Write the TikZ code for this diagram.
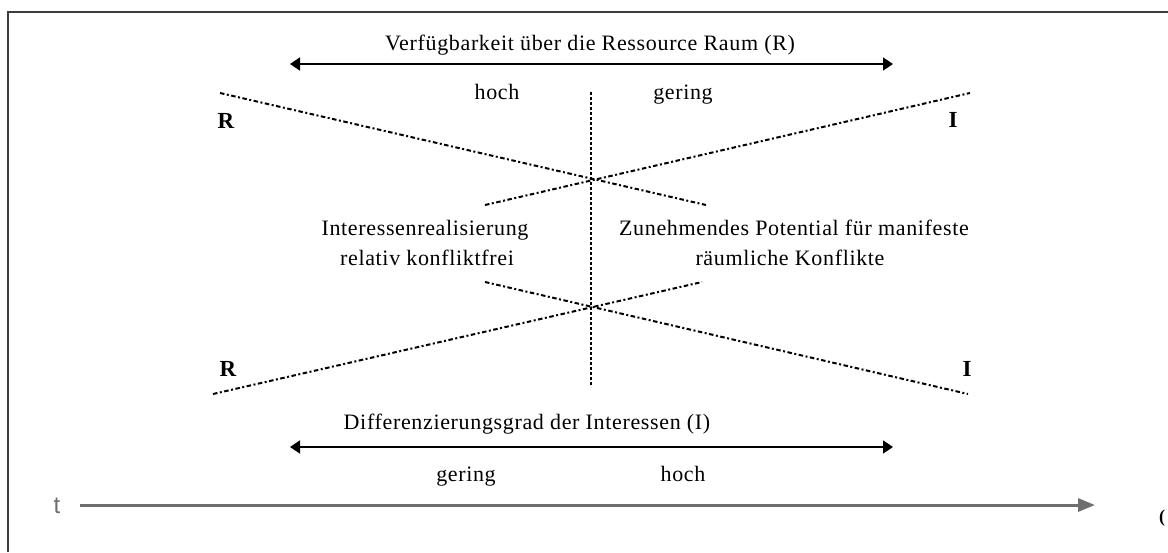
\documentclass[tikz,border=0pt]{standalone}
\usepackage{fontspec}
\setmainfont{Liberation Serif}[LetterSpace=3]
\newfontfamily\axisfont{Liberation Sans}
\usetikzlibrary{arrows.meta}
\definecolor{framegray}{HTML}{3C3C3C}
\definecolor{timegray}{HTML}{6E6E6E}
\tikzset{
  lbl/.style={font=\fontsize{22}{26}\selectfont, inner sep=0pt, anchor=base},
  ends/.style={font=\bfseries\fontsize{23}{26}\selectfont, inner sep=0pt, anchor=base},
  scalearrow/.style={line width=1.8pt, {Triangle[length=10pt,width=13pt]}-{Triangle[length=10pt,width=13pt]}},
  trend/.style={line width=2pt, dash pattern=on 4.5pt off 2.5pt on 2pt off 2.5pt},
  divider/.style={line width=1.8pt, dash pattern=on 2.5pt off 2.5pt},
  timeaxis/.style={line width=3pt, timegray, -{Triangle[length=17pt,width=13pt]}},
}
\begin{document}
\begin{tikzpicture}[x=1pt,y=-1pt]
\useasboundingbox (0,0) rectangle (1168,552);

% frame
\draw[framegray, line width=2.4pt] (8,552) -- (8,12) -- (1170,12);

% upper scale: availability of space
\coordinate (rl) at (290,64);
\coordinate (rr) at (893,64);
\draw[scalearrow] (rl) -- (rr);
\node[lbl] (rtitle) at (590,50) {Verfügbarkeit über die Ressource Raum (R)};
\node[lbl] (rhoch) at (497,99) {hoch};
\node[lbl] (rgering) at (683,99) {gering};

% central divider
\coordinate (vt) at (591,92);
\coordinate (vb) at (591,386);
\draw[divider] (vt) -- (vb);

% upper crossing
\coordinate (ua) at (220,93);
\coordinate (ub) at (706,205);
\coordinate (uc) at (485,205);
\coordinate (ud) at (970,93);
\draw[trend] (ua) -- (ub);
\draw[trend] (uc) -- (ud);
\node[ends] (r1) at (226,128) {R};
\node[ends] (i1) at (953,127) {I};

% middle statements
\node[lbl] (left1) at (425,235) {Interessenrealisierung};
\node[lbl] (left2) at (427,265) {relativ konfliktfrei};
\node[lbl] (right1) at (794,235) {Zunehmendes Potential für manifeste};
\node[lbl] (right2) at (790,265) {räumliche Konflikte};

% lower crossing
\coordinate (la) at (485,282);
\coordinate (lb) at (968,394);
\coordinate (lc) at (213,394);
\coordinate (ld) at (702,282);
\draw[trend] (la) -- (lb);
\draw[trend] (lc) -- (ld);
\node[ends] (r2) at (228,376) {R};
\node[ends] (i2) at (967,376) {I};

% lower scale: differentiation of interests
\coordinate (il) at (290,447);
\coordinate (ir) at (893,447);
\draw[scalearrow] (il) -- (ir);
\node[lbl] (ititle) at (527,429) {Differenzierungsgrad der Interessen (I)};
\node[lbl] (igering) at (466,481) {gering};
\node[lbl] (ihoch) at (683,481) {hoch};

% time axis
\node[font=\axisfont\fontsize{24}{26}\selectfont, text=timegray, inner sep=0pt, anchor=base] (t) at (57,513) {t};
\coordinate (tend) at (1095,505);
\draw[timeaxis] (80,505) -- (tend);
\node[font=\bfseries\fontsize{18}{20}\selectfont, anchor=base west, inner sep=0pt] (cut) at (1159,522) {(};
\end{tikzpicture}
\end{document}
